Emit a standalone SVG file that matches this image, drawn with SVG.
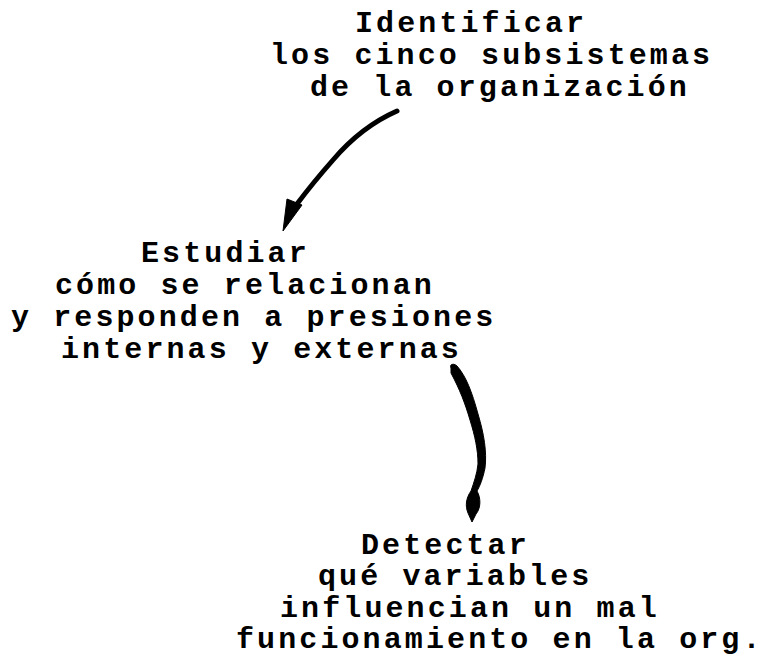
<svg xmlns="http://www.w3.org/2000/svg" width="773" height="656" viewBox="0 0 773 656">
<style>
.t{font-family:"Liberation Mono","DejaVu Sans Mono",monospace;font-size:30px;font-weight:bold;letter-spacing:3.1px;fill:#000}
.ink{fill:#000;stroke:#000;stroke-width:1;stroke-linejoin:round}
.body{fill:none;stroke:#000;stroke-width:5;stroke-linecap:round;stroke-linejoin:round}
</style>
<rect width="773" height="656" fill="#fff"/>
<g id="connectors">
  <path class="body" d="M397,111 C372,122 350,140 333,160 C318,177 306,192 297,204"/>
  <polygon class="ink" points="287,199 302,205 283,231"/>
  <path class="ink" d="M451,368 C449,364 454,363 457,366 C466,376 472,392 478,414 C484,434 487,452 485,468 C483,478 480,486 477,491 C481,498 481,508 476,514 L472,522 L468,513 C465,506 466,498 471,491 C474,482 477,474 478,464 C478,450 475,436 470,420 C465,403 460,390 451,373 Z"/>
</g>
<g id="node-identificar">
  <text class="t" x="355" y="32">Identificar</text>
  <text class="t" x="270" y="64">los cinco subsistemas</text>
  <text class="t" x="310" y="96">de la organización</text>
</g>
<g id="node-estudiar">
  <text class="t" x="141" y="262">Estudiar</text>
  <text class="t" x="55" y="294">cómo se relacionan</text>
  <text class="t" x="11" y="326">y responden a presiones</text>
  <text class="t" x="61" y="358">internas y externas</text>
</g>
<g id="node-detectar">
  <text class="t" x="361" y="554">Detectar</text>
  <text class="t" x="318" y="585">qué variables</text>
  <text class="t" x="280" y="617">influencian un mal</text>
  <text class="t" x="236" y="648">funcionamiento en la org.</text>
</g>
</svg>
